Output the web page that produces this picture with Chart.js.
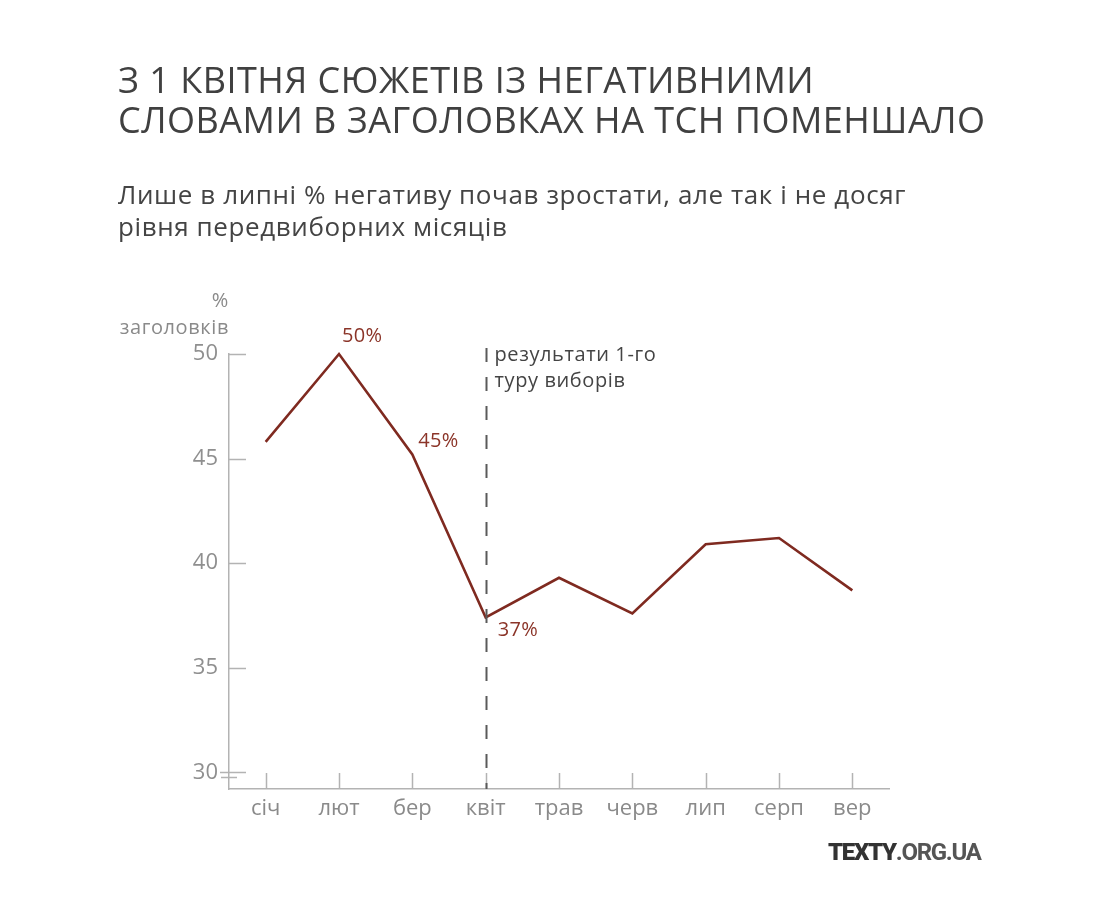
<!DOCTYPE html>
<html>
<head>
<meta charset="utf-8">
<script src="https://cdn.jsdelivr.net/npm/chart.js@4.4.1/dist/chart.umd.min.js"></script>
<style>
  html, body { margin: 0; padding: 0; background: #fff; }
  body { width: 1102px; height: 905px; position: relative; overflow: hidden; font-family: "Open Sans", "Noto Sans", sans-serif; }
  #wrap { position: absolute; left: 0; top: 0; width: 1102px; height: 905px; }
  .title { position: absolute; left: 118px; top: 60px; font-size: 36px; line-height: 40px; letter-spacing: 0.5px; color: #404040; white-space: nowrap; }
  .sub { position: absolute; left: 118px; top: 178px; font-size: 26px; line-height: 32px; letter-spacing: 0.6px; color: #444; white-space: nowrap; }
  .ytitle { position: absolute; right: 873px; top: 286px; font-size: 20px; line-height: 27px; letter-spacing: 0.6px; color: #8a8a8a; text-align: right; white-space: nowrap; }
  .logo { position: absolute; left: 828px; top: 838px; font-family: Roboto, sans-serif; font-weight: bold; font-size: 24px; letter-spacing: -1.3px; color: #555; }
  .logo b { color: #333; }
</style>
</head>
<body>
<div id="wrap"><canvas id="mycanvas" width="1102" height="905"></canvas></div>
<div class="title">З 1 КВІТНЯ СЮЖЕТІВ ІЗ НЕГАТИВНИМИ<br>СЛОВАМИ В ЗАГОЛОВКАХ НА ТСН ПОМЕНШАЛО</div>
<div class="sub">Лише в липні % негативу почав зростати, але так і не досяг<br>рівня передвиборних місяців</div>
<div class="ytitle">%<br>заголовків</div>
<div class="logo"><b>TEXTY</b>.ORG.UA</div>
<script>
var months = ["січ", "лют", "бер", "квіт", "трав", "черв", "лип", "серп", "вер"];
var negShare = [45.8, 50, 45.2, 37.4, 39.3, 37.6, 40.9, 41.2, 38.7];
var yTicks = [30, 35, 40, 45, 50];
var labelled = [1, 2, 3];          // points that get a % label
var electionIndex = 3;             // квіт
var electionNote = ["результати 1-го", "туру виборів"];

var fontFam = "'Open Sans', 'Noto Sans', sans-serif";
var lineColor = "#7f2a20";
var axisColor = "#b3b3b3";

// ticks pointing inwards, dashed marker, labels
var extras = {
	id: "extras",
	afterDatasetsDraw: function(chart) {
		var ctx = chart.ctx;
		var x = chart.scales.x, y = chart.scales.y;
		var area = chart.chartArea;
		ctx.save();

		ctx.strokeStyle = axisColor;
		ctx.lineWidth = 1.5;
		yTicks.forEach(function(v) {
			var py = Math.round(y.getPixelForValue(v)) + 0.5;
			ctx.beginPath();
			ctx.moveTo(v === yTicks[0] ? area.left - 9 : area.left, py);
			ctx.lineTo(area.left + 17, py);
			ctx.stroke();
		});
		// axis break mark
		var pb = Math.round(y.getPixelForValue(yTicks[0])) + 5.5;
		ctx.beginPath();
		ctx.moveTo(area.left - 8, pb);
		ctx.lineTo(area.left + 8, pb);
		ctx.stroke();

		months.forEach(function(m, i) {
			var px = Math.round(x.getPixelForValue(i)) + 0.5;
			ctx.beginPath();
			ctx.moveTo(px, area.bottom);
			ctx.lineTo(px, area.bottom - 16);
			ctx.stroke();
		});

		// election marker
		var ex = Math.round(x.getPixelForValue(electionIndex)) + 0.5;
		ctx.strokeStyle = "#5a5a5a";
		ctx.lineWidth = 2;
		ctx.setLineDash([14, 15]);
		ctx.beginPath();
		ctx.moveTo(ex, area.top - 6);
		ctx.lineTo(ex, area.bottom);
		ctx.stroke();
		ctx.setLineDash([]);

		ctx.letterSpacing = "0.6px";
		ctx.fillStyle = "#444";
		ctx.font = "20px " + fontFam;
		ctx.textAlign = "left";
		ctx.textBaseline = "middle";
		electionNote.forEach(function(t, k) {
			ctx.fillText(t, ex + 8, area.top + 1 + k * 26);
		});

		// point labels
		var offs = { 1: [3, -18], 2: [6, -13], 3: [12, 13] };
		ctx.letterSpacing = "0.3px";
		ctx.fillStyle = "#8b3428";
		ctx.font = "20px " + fontFam;
		labelled.forEach(function(i) {
			var px = x.getPixelForValue(i), py = y.getPixelForValue(negShare[i]);
			ctx.fillText(Math.round(negShare[i]) + "%", px + offs[i][0], py + offs[i][1]);
		});
		ctx.restore();
	}
};

var chartdata = {
	labels: months,
	datasets: [
		{
			label: "% заголовків",
			data: negShare,
			fill: false,
			lineTension: 0,
			borderColor: lineColor,
			borderWidth: 2.6,
			pointRadius: 0,
			pointHoverRadius: 0,
			clip: false
		}
	]
};

var ctx = document.getElementById("mycanvas");

var LineGraph = new Chart(ctx, {
	type: "line",
	data: chartdata,
	plugins: [extras],
	options: {
		responsive: false,
		animation: false,
		layout: { padding: { left: 0, top: 354, right: 213, bottom: 0 } },
		plugins: { legend: { display: false }, tooltip: { enabled: false } },
		scales: {
			x: {
				offset: true,
				grid: { display: false, drawTicks: false },
				border: { display: true, color: axisColor, width: 1.5 },
				ticks: { color: "#8a8a8a", font: { family: fontFam, size: 22 }, padding: 7, maxRotation: 0 },
				afterFit: function(s) { s.height = 116; }
			},
			y: {
				min: 29.2,
				max: 50,
				grid: { display: false, drawTicks: false },
				border: { display: true, color: axisColor, width: 1.5 },
				ticks: { color: "#8f8f8f", font: { family: fontFam, size: 22 }, padding: 11 },
				afterBuildTicks: function(s) { s.ticks = yTicks.map(function(v) { return { value: v }; }); },
				afterFit: function(s) { s.width = 229; }
			}
		}
	}
});
</script>
</body>
</html>
